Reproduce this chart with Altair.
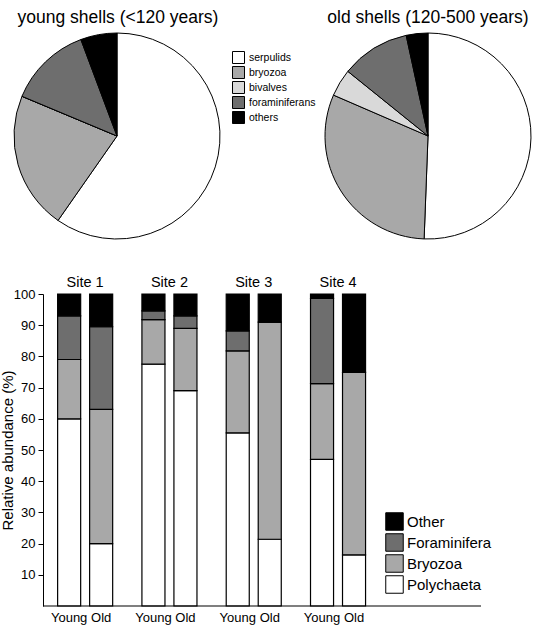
import altair as alt
import pandas as pd

# ---- pie data ----
pie_taxa = ["serpulids", "bryozoa", "bivalves", "foraminiferans", "others"]
young_share = [59.7, 21.6, 0.0, 13.0, 5.7]
old_share = [50.6, 30.9, 4.3, 10.8, 3.4]
pie_colors = ["#ffffff", "#a8a8a8", "#d9d9d9", "#6e6e6e", "#000000"]
pie_titles = ["young shells (<120 years)", "old shells (120-500 years)"]

# ---- bar data (segment sizes, %) ----
sites = ["Site 1", "Site 2", "Site 3", "Site 4"]
ages = ["Young", "Old"]
bar_taxa = ["Polychaeta", "Bryozoa", "Foraminifera", "Other"]
polychaeta = [60, 20, 77.5, 69, 55.5, 21.4, 47, 16.4]
bryozoa = [19, 43, 14.3, 20, 26.3, 69.6, 24.3, 58.5]
foraminifera = [14, 26.5, 2.8, 4, 6.4, 0, 27.3, 0]
other = [7, 10.5, 5.4, 7, 11.8, 9, 1.4, 25.1]
bar_colors = ["#ffffff", "#a8a8a8", "#6e6e6e", "#000000"]
legend_order = ["Other", "Foraminifera", "Bryozoa", "Polychaeta"]
y_ticks = [10, 20, 30, 40, 50, 60, 70, 80, 90, 100]

FONT = "Liberation Sans"

young_df = pd.DataFrame({"Taxon": pie_taxa, "Share": young_share, "ord": range(len(pie_taxa))})
old_df = pd.DataFrame({"Taxon": pie_taxa, "Share": old_share, "ord": range(len(pie_taxa))})

rows = []
series = [polychaeta, bryozoa, foraminifera, other]
k = 0
for s in sites:
    for a in ages:
        for t_i, t in enumerate(bar_taxa):
            rows.append({"Site": s, "Age": a, "Taxon": t, "Value": series[t_i][k], "ord": t_i})
        k += 1
bar_df = pd.DataFrame(rows)
label_df = pd.DataFrame([{"Site": s, "Age": a} for s in sites for a in ages])

pie_fill = alt.Fill(
    "Taxon:N",
    scale=alt.Scale(domain=pie_taxa, range=pie_colors),
    legend=alt.Legend(
        title=None, orient="none", legendX=189, legendY=-243,
        symbolType="square", symbolSize=144, symbolStrokeColor="black",
        symbolStrokeWidth=1, labelFontSize=10.5, labelOffset=4,
        rowPadding=-5.5, padding=0, labelFont=FONT, labelColor="black",
    ),
)

pie_young = alt.Chart(young_df).mark_arc(
    x=74, y=-158, radius=103, stroke="black", strokeWidth=1
).encode(
    theta=alt.Theta("Share:Q", stack=True),
    order=alt.Order("ord:Q"),
    fill=pie_fill,
)
pie_old = alt.Chart(old_df).mark_arc(
    x=385, y=-158, radius=103, stroke="black", strokeWidth=1
).encode(
    theta=alt.Theta("Share:Q", stack=True),
    order=alt.Order("ord:Q"),
    fill=pie_fill,
)
title_young = alt.Chart(pd.DataFrame({"t": [pie_titles[0]]})).mark_text(
    fontSize=17.5, font=FONT, color="black", baseline="middle", align="center"
).encode(text="t:N", x=alt.value(75), y=alt.value(-276))
title_old = alt.Chart(pd.DataFrame({"t": [pie_titles[1]]})).mark_text(
    fontSize=17.5, font=FONT, color="black", baseline="middle", align="center"
).encode(text="t:N", x=alt.value(385), y=alt.value(-276))

pies = alt.layer(pie_young, pie_old, title_young, title_old).resolve_scale(theta="independent")

x_enc = alt.X(
    "Site:N", sort=sites,
    scale=alt.Scale(domain=sites, paddingInner=0, paddingOuter=0.598, align=0),
    axis=alt.Axis(orient="top", title=None, ticks=False, tickSize=0, domain=False,
                  labelPadding=5, labelFontSize=14.5, labelAngle=0,
                  labelFont=FONT, labelColor="black"),
)
xo_enc = alt.XOffset(
    "Age:N", sort=ages,
    scale=alt.Scale(domain=ages, paddingInner=0.28, paddingOuter=0.457),
)

y_axis = alt.Axis(
    values=y_ticks, grid=False, labelOverlap=False, labelSeparation=0,
    tickSize=5, labelFontSize=13, labelPadding=3, labelFont=FONT,
    labelColor="black", tickColor="black", domainColor="black",
    title="Relative abundance (%)", titleFontSize=15, titleFontWeight="normal",
    titleFont=FONT, titleColor="black", titleAngle=270, titleX=-31, titleY=156,
    titleAlign="center", titleBaseline="alphabetic",
)
y_scale = alt.Scale(domain=[0, 100], nice=False)

bars = alt.Chart(bar_df).mark_bar(stroke="black", strokeWidth=1.2).encode(
    x=x_enc,
    xOffset=xo_enc,
    y=alt.Y("Value:Q", stack="zero", scale=y_scale, axis=y_axis),
    fill=alt.Fill(
        "Taxon:N",
        scale=alt.Scale(domain=legend_order, range=[bar_colors[3], bar_colors[2], bar_colors[1], bar_colors[0]]),
        legend=alt.Legend(
            title=None, orient="none", legendX=342, legendY=218,
            symbolType="square", symbolSize=306, symbolStrokeColor="black",
            symbolStrokeWidth=1, labelFontSize=15, labelOffset=3,
            rowPadding=-3.5, padding=0, labelFont=FONT, labelColor="black",
        ),
    ),
    order=alt.Order("ord:Q"),
)

baseline = alt.Chart(pd.DataFrame({"v": [0]})).mark_rule(color="black", strokeWidth=1.2).encode(
    y=alt.Y(datum=0, scale=y_scale, axis=y_axis), x=alt.value(0), x2=alt.value(438)
)

age_labels = alt.Chart(label_df).mark_text(
    fontSize=13, font=FONT, color="black", baseline="middle", align="center"
).encode(
    x=x_enc, xOffset=xo_enc, y=alt.value(324), text="Age:N"
)

bar_group = alt.layer(bars, baseline, age_labels)

chart = alt.layer(pies, bar_group).resolve_scale(fill="independent").properties(
    width=438, height=312,
    autosize=alt.AutoSizeParams(type="none"),
    padding={"left": 43, "top": 294, "right": 54, "bottom": 31},
    background="white",
).configure(font=FONT).configure_view(stroke=None).configure_axisY(labelOverlap=False)

chart.save("out.html", embed_options={"renderer": "svg", "actions": False})
